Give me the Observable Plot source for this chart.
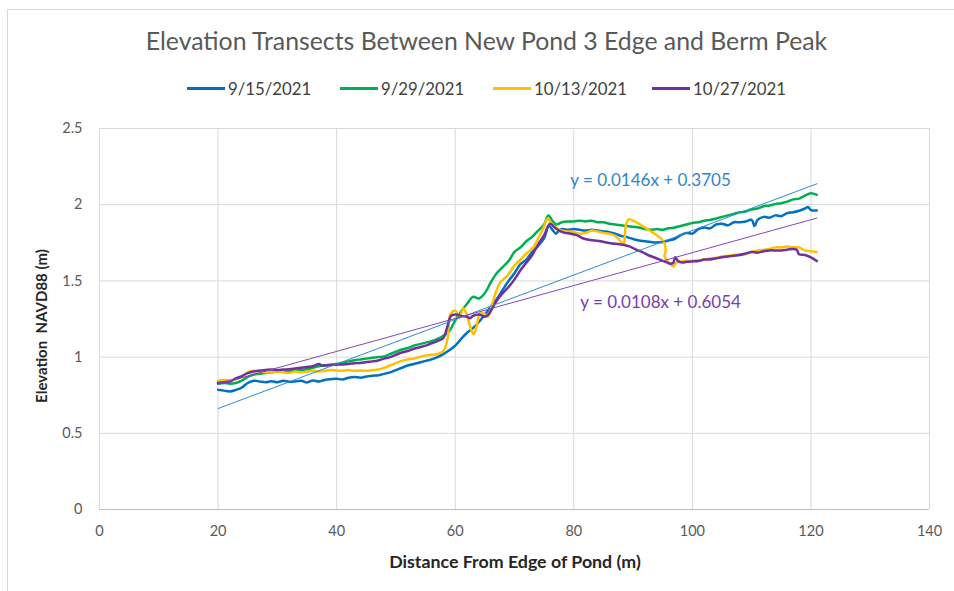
<!DOCTYPE html>
<html>
<head>
<meta charset="utf-8">
<script src="https://cdn.jsdelivr.net/npm/d3@7"></script>
<script src="https://cdn.jsdelivr.net/npm/@observablehq/plot@0.6"></script>
<style>
  html, body { margin: 0; padding: 0; background: #fff; }
  #wrap { position: relative; width: 954px; height: 591px; overflow: hidden; font-family: Lato, "Open Sans", sans-serif; }
  #frame { position: absolute; left: 7px; top: 9px; width: 1000px; height: 700px; border-left: 1px solid #d9d9d9; border-top: 1px solid #d9d9d9; }
  #title { position: absolute; left: 0; width: 973px; top: 26px; text-align: center; font-size: 24.8px; color: #595959; white-space: nowrap; }
  .leg { position: absolute; top: 78px; display: flex; align-items: center; font-size: 16.8px; color: #404040; white-space: nowrap; }
  .leg span.sw { display: inline-block; width: 38px; height: 3px; margin-right: 3px; }
  #xtitle { position: absolute; left: 0; width: 1030px; top: 550px; text-align: center; font-size: 17.8px; font-weight: bold; color: #262626; }
  #ytitle { position: absolute; left: 41px; top: 326px; transform: translate(-50%, -50%) rotate(-90deg); font-size: 15px; font-weight: bold; color: #262626; white-space: pre; }
  #chart { position: absolute; left: 0; top: 0; }
</style>
</head>
<body>
<div id="wrap">
  <div id="frame"></div>
  <div id="chart"></div>
  <div id="title"></div>
  <div id="legend"></div>
  <div id="xtitle"></div>
  <div id="ytitle"></div>
</div>
<script>
// ---------- data ----------
const titleText = "Elevation Transects Between New Pond 3 Edge and Berm Peak";
const xTitle = "Distance From Edge of Pond (m)";
const yTitle = "Elevation  NAVD88 (m)";
const seriesNames = ["9/15/2021", "9/29/2021", "10/13/2021", "10/27/2021"];
const seriesColors = ["#0070C0", "#00B050", "#FFC000", "#7030A0"];
const xTicks = [0, 20, 40, 60, 80, 100, 120, 140];
const yTicks = [0, 0.5, 1, 1.5, 2, 2.5];

const s0915 = [
  [20,0.785],[21,0.78],[22,0.775],[23,0.785],[24,0.80],[25,0.83],[26,0.845],[27,0.84],[28,0.835],[29,0.842],
  [30,0.835],[31,0.845],[32,0.838],[33,0.84],[34,0.845],[35,0.834],[36,0.846],[37,0.84],[38,0.85],[39,0.855],
  [40,0.858],[41,0.853],[42,0.865],[43,0.87],[44,0.865],[45,0.872],[46,0.878],[47,0.88],[48,0.89],[49,0.90],
  [50,0.915],[51,0.93],[52,0.945],[53,0.955],[54,0.965],[55,0.975],[56,0.985],[57,1.0],[58,1.02],[59,1.045],
  [60,1.075],[61,1.12],[62,1.16],[63,1.19],[64,1.23],[65,1.28],[66,1.33],[67,1.38],[68,1.44],[69,1.50],
  [70,1.55],[71,1.61],[72,1.64],[73,1.69],[74,1.73],[75,1.78],[75.8,1.86],[76.5,1.83],[77,1.81],[77.5,1.83],
  [78,1.84],[79,1.835],[80,1.84],[81,1.835],[82,1.83],[83,1.835],[84,1.83],[85,1.825],[86,1.82],[87,1.81],
  [88,1.795],[89,1.787],[90,1.775],[91,1.765],[92,1.76],[93,1.755],[94,1.752],[95,1.755],[96,1.765],[97,1.775],
  [98,1.80],[99,1.815],[100,1.81],[101,1.84],[102,1.85],[103,1.845],[104,1.87],[105,1.875],[106,1.865],[107,1.885],
  [108,1.885],[109,1.89],[110,1.90],[110.5,1.86],[111,1.90],[112,1.92],[113,1.915],[114,1.93],[115,1.925],[116,1.945],
  [117,1.95],[118,1.96],[119,1.975],[119.5,1.985],[120,1.965],[121,1.962]
];
const s0929 = [
  [20,0.825],[21,0.83],[22,0.825],[23,0.83],[24,0.845],[25,0.87],[26,0.885],[27,0.89],[28,0.895],[29,0.90],
  [30,0.905],[31,0.905],[32,0.91],[33,0.912],[34,0.915],[35,0.92],[36,0.93],[37,0.94],[38,0.945],[39,0.95],
  [40,0.955],[41,0.962],[42,0.972],[43,0.98],[44,0.985],[45,0.99],[46,0.995],[47,1.0],[48,1.005],[49,1.02],
  [50,1.035],[51,1.05],[52,1.06],[53,1.075],[54,1.085],[55,1.095],[56,1.105],[57,1.12],[58,1.14],[59,1.17],
  [60,1.24],[61,1.30],[62,1.35],[63,1.395],[64,1.385],[65,1.42],[66,1.49],[67,1.55],[68,1.59],[69,1.63],
  [70,1.69],[71,1.72],[72,1.76],[73,1.79],[74,1.83],[75,1.87],[75.7,1.93],[76.3,1.90],[77,1.87],[78,1.885],
  [79,1.89],[80,1.89],[81,1.895],[82,1.89],[83,1.895],[84,1.885],[85,1.885],[86,1.875],[87,1.87],[88,1.865],
  [89,1.86],[90,1.855],[91,1.85],[92,1.84],[93,1.835],[94,1.84],[95,1.835],[96,1.845],[97,1.85],[98,1.86],
  [99,1.87],[100,1.88],[101,1.885],[102,1.895],[103,1.90],[104,1.91],[105,1.92],[106,1.93],[107,1.94],[108,1.95],
  [109,1.955],[110,1.97],[111,1.975],[112,1.99],[113,1.995],[114,2.005],[115,2.01],[116,2.02],[117,2.035],[118,2.04],
  [119,2.06],[120,2.075],[121,2.065]
];
const s1013 = [
  [20,0.845],[21,0.85],[22,0.848],[23,0.855],[24,0.87],[25,0.90],[26,0.91],[27,0.905],[28,0.90],[29,0.90],
  [30,0.905],[31,0.90],[32,0.895],[33,0.905],[34,0.90],[35,0.905],[36,0.91],[37,0.905],[38,0.91],[39,0.915],
  [40,0.912],[41,0.91],[42,0.915],[43,0.91],[44,0.912],[45,0.91],[46,0.915],[47,0.918],[48,0.93],[49,0.945],
  [50,0.96],[51,0.975],[52,0.985],[53,0.99],[54,1.0],[55,1.01],[56,1.015],[57,1.02],[58,1.04],[58.7,1.12],
  [59.2,1.28],[60,1.305],[60.7,1.26],[61.4,1.32],[62,1.27],[62.6,1.19],[63.1,1.15],[63.6,1.20],[64.2,1.29],[65,1.28],
  [65.5,1.265],[66.4,1.37],[67,1.44],[67.6,1.49],[68.7,1.53],[70,1.60],[71,1.64],[72,1.68],[73.2,1.72],[74,1.78],
  [74.9,1.85],[75.6,1.91],[76.2,1.88],[77,1.85],[78,1.83],[79,1.825],[80,1.82],[81,1.81],[82,1.815],[83,1.83],
  [84,1.825],[85,1.815],[86,1.81],[87,1.795],[87.8,1.765],[88.4,1.74],[88.6,1.79],[88.8,1.87],[89.3,1.905],[90,1.895],
  [91,1.875],[92,1.85],[93,1.825],[94,1.80],[94.8,1.775],[95.3,1.745],[95.5,1.70],[95.3,1.66],[95.7,1.635],[96.3,1.61],
  [96.8,1.595],[97.3,1.62],[98,1.625],[99,1.63],[100,1.632],[101,1.635],[102,1.64],[103,1.648],[104,1.65],[105,1.66],
  [106,1.665],[107,1.67],[108,1.675],[109,1.675],[110,1.69],[111,1.70],[112,1.705],[113,1.71],[114,1.72],[115,1.72],
  [116,1.725],[117,1.72],[118,1.72],[119,1.70],[120,1.695],[121,1.69]
];
const s1027 = [
  [20,0.83],[21,0.835],[22,0.84],[23,0.86],[24,0.875],[25,0.895],[26,0.905],[27,0.912],[28,0.915],[29,0.918],
  [30,0.915],[31,0.918],[32,0.92],[33,0.925],[34,0.93],[35,0.935],[36,0.94],[37,0.955],[37.5,0.945],[38,0.945],
  [39,0.948],[40,0.95],[41,0.952],[42,0.955],[43,0.96],[44,0.962],[45,0.968],[46,0.972],[47,0.978],[48,0.99],
  [49,1.0],[50,1.015],[51,1.03],[52,1.04],[53,1.055],[54,1.065],[55,1.075],[56,1.09],[57,1.105],[58,1.125],
  [58.6,1.19],[59.3,1.27],[60,1.28],[61,1.27],[62,1.265],[62.5,1.255],[63,1.27],[64,1.28],[65,1.265],[65.5,1.275],
  [66.4,1.33],[67,1.37],[68,1.42],[69,1.46],[70,1.51],[71,1.57],[72,1.62],[73,1.67],[74,1.74],[75,1.80],
  [76,1.875],[76.8,1.85],[77.5,1.83],[78.5,1.815],[79.5,1.81],[80.5,1.80],[81.5,1.78],[82.5,1.77],[83.5,1.765],[84.5,1.76],
  [85.5,1.752],[86.5,1.745],[87.5,1.742],[88.5,1.735],[89.5,1.725],[90.5,1.705],[91.5,1.69],[92.5,1.67],[93.5,1.655],[94.5,1.64],
  [95.5,1.625],[96.3,1.612],[96.8,1.62],[97.1,1.655],[97.6,1.63],[98.3,1.62],[99,1.625],[100,1.628],[101,1.63],[102,1.64],
  [103,1.64],[104,1.648],[105,1.655],[106,1.66],[107,1.665],[108,1.67],[109,1.68],[110,1.69],[111,1.685],[112,1.695],
  [113,1.70],[114,1.70],[115,1.70],[116,1.705],[117,1.71],[117.6,1.705],[118,1.675],[119,1.67],[120,1.655],[121,1.63]
];

// linear trendlines shown on the chart (for 9/15 and 10/27)
const trendSlopes = [0.0146, 0.0108];
const trendIntercepts = [0.3705, 0.6054];
const trendLabels = ["y = 0.0146x + 0.3705", "y = 0.0108x + 0.6054"];
const trendColors = ["#2E8BD6", "#8048B8"];
const trendLabelColors = ["#2E86CC", "#7A3CB0"];
const trendRange = [20, 121];

// ---------- build ----------
const allSeries = [s0915, s0929, s1013, s1027];
const rows = [];
allSeries.forEach((s, i) => s.forEach(([x, y], j) => rows.push({series: seriesNames[i], i, x, y, order: j})));

const trendRows = [];
trendSlopes.forEach((m, k) => trendRange.forEach(x => trendRows.push({k, x, y: m * x + trendIntercepts[k]})));

const font = 'Lato, "Open Sans", sans-serif';

const chart = Plot.plot({
  width: 954,
  height: 591,
  marginLeft: 99,
  marginRight: 25,
  marginTop: 128,
  marginBottom: 82,
  style: {fontFamily: font, fontSize: "14.5px", color: "#595959", background: "transparent"},
  x: {domain: [0, 140]},
  y: {domain: [0, 2.5]},
  color: {domain: seriesNames, range: seriesColors},
  marks: [
    Plot.gridX(xTicks, {stroke: "#d9d9d9", strokeOpacity: 1}),
    Plot.gridY(yTicks, {stroke: "#d9d9d9", strokeOpacity: 1}),
    Plot.ruleY([0], {stroke: "#bfbfbf"}),
    Plot.axisX(xTicks, {tickSize: 0, tickPadding: 16, label: null, tickFormat: d => String(d)}),
    Plot.axisY(yTicks, {tickSize: 0, tickPadding: 17, label: null, tickFormat: d => String(d)}),
    Plot.line(rows, {x: "x", y: "y", z: "series", stroke: "series", strokeWidth: 2.5, curve: "catmull-rom", sort: null}),
    Plot.line(trendRows, {x: "x", y: "y", z: "k", stroke: d => trendColors[d.k], strokeWidth: 1}),
    Plot.text([0], {x: 79.4, y: 2.16, text: () => trendLabels[0], fill: trendLabelColors[0], textAnchor: "start", fontSize: 17}),
    Plot.text([1], {x: 81.1, y: 1.36, text: () => trendLabels[1], fill: trendLabelColors[1], textAnchor: "start", fontSize: 17})
  ]
});
document.getElementById("chart").appendChild(chart);

document.getElementById("title").textContent = titleText;
document.getElementById("xtitle").textContent = xTitle;
document.getElementById("ytitle").textContent = yTitle;

const legendLefts = [187, 340, 493, 652];
const legend = document.getElementById("legend");
seriesNames.forEach((name, i) => {
  const item = document.createElement("div");
  item.className = "leg";
  item.style.left = legendLefts[i] + "px";
  const sw = document.createElement("span");
  sw.className = "sw";
  sw.style.background = seriesColors[i];
  item.appendChild(sw);
  item.appendChild(document.createTextNode(name));
  legend.appendChild(item);
});
</script>
</body>
</html>
